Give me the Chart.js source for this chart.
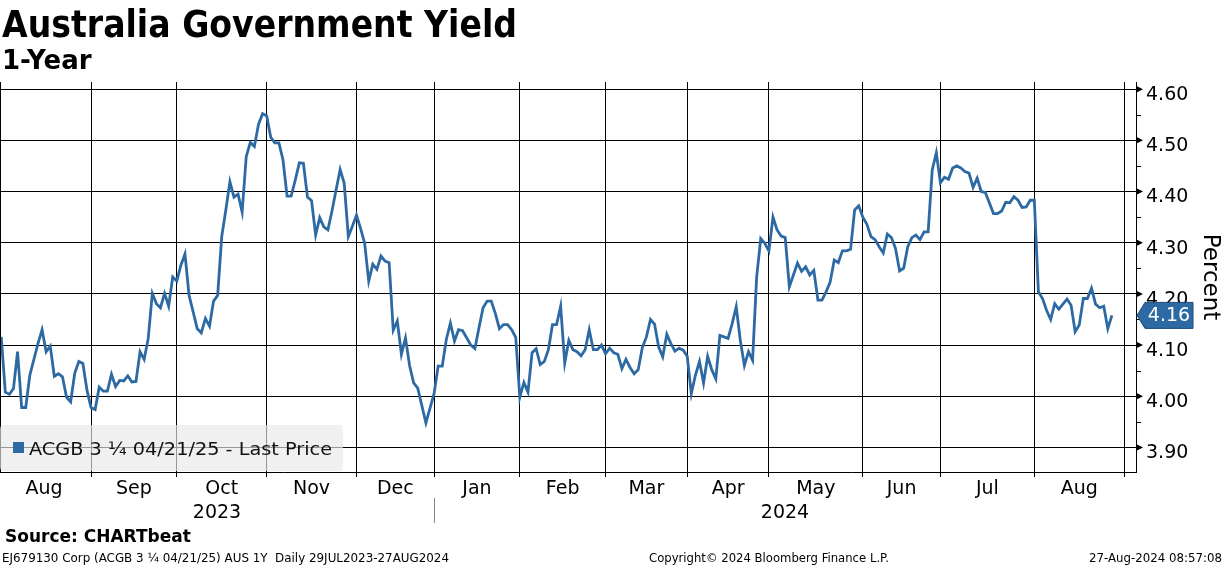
<!DOCTYPE html>
<html>
<head>
<meta charset="utf-8">
<script src="https://cdn.jsdelivr.net/npm/chart.js@4.4.1/dist/chart.umd.min.js"></script>
<style>
    body { margin: 0; background: #fff; width: 1224px; height: 566px; overflow: hidden; position: relative; font-family: "DejaVu Sans", sans-serif; }
    #chart { position: absolute; left: 0; top: 0; }
    .txt { position: absolute; white-space: nowrap; color: #000; transform-origin: left top; display: inline-block; }
    #title { left: 2px; top: 6px; font-size: 37px; line-height: 37px; font-weight: bold; }
    #subtitle { left: 2px; top: 47px; font-size: 26px; line-height: 26px; font-weight: bold; }
    #source { left: 5px; top: 528px; font-size: 17px; line-height: 17px; font-weight: bold; }
    .foot { top: 552px; font-size: 12px; line-height: 12px; }
    #foot1 { left: 2px; }
    #foot2 { left: 649px; }
    #foot3 { left: 1089px; }
</style>
</head>
<body>
<canvas id="chart" width="1224" height="566"></canvas>
<div class="txt" id="title">Australia Government Yield</div>
<div class="txt" id="subtitle">1-Year</div>
<div class="txt" id="source">Source: CHARTbeat</div>
<div class="txt foot" id="foot1">EJ679130 Corp (ACGB 3 ¼ 04/21/25) AUS 1Y&nbsp; Daily 29JUL2023-27AUG2024</div>
<div class="txt foot" id="foot2">Copyright© 2024 Bloomberg Finance L.P.</div>
<div class="txt foot" id="foot3">27-Aug-2024 08:57:08</div>
<script>
// Trading session number (0 = 31 Jul 2023) and last price yield (%)
const session = [
    2, 3, 4, 5, 6, 7, 8, 9, 11, 12, 13, 14, 15, 16, 17, 18, 19, 20, 21, 22,
    23, 24, 25, 26, 27, 28, 29, 30, 31, 32, 33, 34, 35, 36, 37, 38, 39, 40, 41, 42,
    43, 44, 45, 46, 47, 48, 49, 50, 51, 52, 53, 54, 55, 56, 57, 58, 59, 60, 61, 62,
    63, 64, 65, 66, 67, 68, 69, 70, 71, 72, 73, 74, 75, 76, 77, 78, 79, 80, 81, 82,
    83, 84, 85, 86, 87, 88, 89, 90, 91, 92, 93, 94, 95, 96, 97, 98, 99, 100, 101, 102,
    103, 104, 106, 108, 109, 110, 111, 112, 113, 114, 115, 117, 118, 119, 120, 121, 122, 123, 124, 125,
    126, 127, 128, 129, 130, 131, 132, 133, 134, 135, 136, 137, 138, 139, 140, 141, 142, 143, 144, 145,
    146, 147, 148, 149, 150, 151, 152, 153, 154, 155, 156, 157, 158, 159, 160, 161, 162, 163, 164, 165,
    166, 167, 168, 169, 170, 171, 172, 173, 174, 175, 176, 177, 178, 179, 180, 181, 182, 183, 184, 185,
    186, 187, 188, 189, 190, 191, 192, 193, 194, 195, 196, 197, 198, 199, 200, 201, 202, 203, 204, 205,
    206, 207, 208, 209, 210, 211, 212, 213, 214, 215, 216, 217, 218, 219, 220, 221, 222, 223, 224, 225,
    226, 227, 228, 229, 230, 231, 232, 233, 234, 235, 236, 237, 238, 239, 240, 241, 242, 243, 245, 246,
    247, 248, 249, 250, 251, 252, 253, 254, 255, 256, 257, 258, 259, 260, 261, 262, 263, 264, 265, 266,
    267, 268, 269, 270, 271, 272, 273, 274
];
const yieldPct = [
    4.116, 4.008, 4.004, 4.015, 4.087, 3.978, 3.978, 4.041, 4.103, 4.130, 4.087, 4.098, 4.039, 4.044, 4.038, 3.998, 3.989, 4.045, 4.068, 4.064,
    4.012, 3.978, 3.974, 4.018, 4.010, 4.010, 4.043, 4.019, 4.031, 4.030, 4.040, 4.028, 4.029, 4.087, 4.072, 4.113, 4.201, 4.181, 4.173, 4.201,
    4.176, 4.233, 4.225, 4.256, 4.278, 4.197, 4.165, 4.132, 4.124, 4.152, 4.137, 4.186, 4.197, 4.312, 4.364, 4.419, 4.389, 4.395, 4.360, 4.468,
    4.496, 4.488, 4.531, 4.552, 4.548, 4.506, 4.495, 4.495, 4.462, 4.391, 4.391, 4.422, 4.456, 4.455, 4.389, 4.382, 4.315, 4.349, 4.331, 4.325,
    4.362, 4.403, 4.443, 4.416, 4.312, 4.332, 4.354, 4.328, 4.299, 4.225, 4.258, 4.248, 4.274, 4.264, 4.261, 4.129, 4.147, 4.082, 4.114, 4.060,
    4.026, 4.016, 3.948, 4.005, 4.059, 4.059, 4.111, 4.143, 4.108, 4.130, 4.128, 4.100, 4.093, 4.134, 4.173, 4.186, 4.186, 4.162, 4.132, 4.140,
    4.140, 4.130, 4.115, 3.998, 4.027, 4.008, 4.085, 4.093, 4.062, 4.068, 4.091, 4.140, 4.140, 4.176, 4.065, 4.109, 4.091, 4.087, 4.079, 4.091,
    4.130, 4.091, 4.091, 4.100, 4.083, 4.094, 4.085, 4.082, 4.054, 4.072, 4.056, 4.044, 4.052, 4.095, 4.116, 4.150, 4.141, 4.096, 4.077, 4.121,
    4.103, 4.088, 4.094, 4.090, 4.078, 4.005, 4.041, 4.068, 4.026, 4.078, 4.052, 4.034, 4.119, 4.116, 4.113, 4.142, 4.175, 4.109, 4.060, 4.087,
    4.070, 4.233, 4.308, 4.299, 4.284, 4.350, 4.325, 4.313, 4.310, 4.214, 4.237, 4.260, 4.244, 4.253, 4.237, 4.246, 4.188, 4.188, 4.204, 4.223,
    4.266, 4.261, 4.284, 4.284, 4.287, 4.364, 4.372, 4.350, 4.336, 4.312, 4.306, 4.292, 4.280, 4.317, 4.310, 4.289, 4.245, 4.250, 4.292, 4.310,
    4.315, 4.306, 4.321, 4.321, 4.442, 4.476, 4.417, 4.428, 4.424, 4.446, 4.450, 4.446, 4.439, 4.436, 4.408, 4.426, 4.400, 4.398, 4.357, 4.357,
    4.362, 4.379, 4.378, 4.390, 4.383, 4.369, 4.370, 4.383, 4.383, 4.204, 4.191, 4.168, 4.150, 4.181, 4.170, 4.180, 4.190, 4.178, 4.126, 4.139,
    4.191, 4.191, 4.211, 4.180, 4.173, 4.176, 4.132, 4.158
];

// Axis labels
const monthNames = ['Aug', 'Sep', 'Oct', 'Nov', 'Dec', 'Jan', 'Feb', 'Mar', 'Apr', 'May', 'Jun', 'Jul', 'Aug'];
const yearNames = ['2023', '2024'];
const yTicks = [3.90, 4.00, 4.10, 4.20, 4.30, 4.40, 4.50, 4.60];
const seriesName = 'ACGB 3 ¼ 04/21/25 - Last Price';
const lineColor = '#2d6aa3';

// Market holidays skipped by the daily series
const holidays = ['2023-12-25', '2023-12-26', '2024-01-01', '2024-01-26', '2024-03-29', '2024-04-01', '2024-04-25', '2024-06-10'];

// Build the trading calendar so the month boundaries line up with the sessions
function tradingDays(from, to) {
    const days = [];
    const d = new Date(from + 'T00:00:00Z');
    const end = new Date(to + 'T00:00:00Z');
    while (d <= end) {
        const iso = d.toISOString().slice(0, 10);
        const wd = d.getUTCDay();
        if (wd !== 0 && wd !== 6 && !holidays.includes(iso)) days.push(iso);
        d.setUTCDate(d.getUTCDate() + 1);
    }
    return days;
}
const calendar = tradingDays('2023-07-31', '2024-09-30');
const monthStarts = [];
calendar.forEach((day, i) => {
    if (i > 0 && day.slice(5, 7) !== calendar[i - 1].slice(5, 7)) monthStarts.push(i);
});
const monthMids = monthStarts.slice(0, -1).map((s, i) => (s + monthStarts[i + 1]) / 2);
const yearStart = monthStarts[5]; // first session of 2024

const xMin = 1.7, xMax = 279.9;
const yMin = 3.852, yMax = 4.614;

// Draws the extras Bloomberg puts on the chart
const extras = {
    id: 'extras',
    beforeDraw(chart) {
        const c = chart.ctx;
        c.save();
        c.fillStyle = '#fff';
        c.fillRect(0, 0, chart.width, chart.height);
        c.restore();
    },
    afterDatasetsDraw(chart) {
        const c = chart.ctx;
        const a = chart.chartArea;
        const x = chart.scales.x;
        const y = chart.scales.y;
        c.save();
        // left frame
        c.strokeStyle = '#000';
        c.lineWidth = 1;
        c.beginPath();
        c.moveTo(a.left + 0.5, a.top);
        c.lineTo(a.left + 0.5, a.bottom);
        c.stroke();

        // legend box
        c.fillStyle = 'rgba(232,232,232,0.65)';
        c.beginPath();
        c.roundRect(a.left, a.bottom - 47, 343, 46, 4);
        c.fill();
        c.fillStyle = lineColor;
        c.fillRect(a.left + 13, a.bottom - 30, 11, 11);
        c.fillStyle = '#111';
        c.font = '17px "DejaVu Sans"';
        c.textBaseline = 'alphabetic';
        const tw = c.measureText(seriesName).width;
        c.save();
        c.translate(a.left + 29, a.bottom - 17);
        c.scale(303 / tw, 1);
        c.fillText(seriesName, 0, 0);
        c.restore();

        // arrow markers and minor ticks on the right axis
        c.fillStyle = '#000';
        yTicks.forEach(v => {
            const py = y.getPixelForValue(v);
            c.beginPath();
            c.moveTo(a.right, py - 3.5);
            c.lineTo(a.right + 7, py);
            c.lineTo(a.right, py + 3.5);
            c.closePath();
            c.fill();
            const my = Math.round(y.getPixelForValue(v + 0.05)) + 0.5;
            if (v + 0.05 < yMax) {
                c.beginPath();
                c.moveTo(a.right, my);
                c.lineTo(a.right + 5, my);
                c.stroke();
            }
        });

        // last value tag
        const last = yieldPct[yieldPct.length - 1];
        const ly = y.getPixelForValue(last);
        c.fillStyle = lineColor;
        c.strokeStyle = '#1c4a78';
        c.beginPath();
        c.moveTo(a.right + 1, ly);
        c.lineTo(a.right + 9, ly - 13);
        c.lineTo(a.right + 57, ly - 13);
        c.lineTo(a.right + 57, ly + 13);
        c.lineTo(a.right + 9, ly + 13);
        c.closePath();
        c.fill();
        c.stroke();
        c.fillStyle = '#fff';
        c.font = '19px "DejaVu Sans"';
        c.textAlign = 'center';
        c.textBaseline = 'middle';
        c.fillText(last.toFixed(2), a.right + 33, ly + 1);

        // month names between the month boundaries
        c.fillStyle = '#000';
        c.textBaseline = 'alphabetic';
        monthMids.forEach((m, i) => {
            c.fillText(monthNames[i], x.getPixelForValue(m), a.bottom + 22);
        });

        // years under the month labels
        const sep = x.getPixelForValue(yearStart);
        c.fillText(yearNames[0], (a.left + sep) / 2, a.bottom + 46);
        c.fillText(yearNames[1], (sep + a.right) / 2, a.bottom + 46);
        c.strokeStyle = '#888';
        c.beginPath();
        c.moveTo(Math.round(sep) + 0.5, a.bottom + 26);
        c.lineTo(Math.round(sep) + 0.5, a.bottom + 51);
        c.stroke();
        c.restore();
    }
};

const ctx = document.getElementById('chart').getContext('2d');
const yieldChart = new Chart(ctx, {
    type: 'line',
    data: {
        datasets: [{
            label: seriesName,
            data: session.map((s, i) => ({ x: s, y: yieldPct[i] })),
            borderColor: lineColor,
            borderWidth: 2.8,
            pointRadius: 0,
            tension: 0
        }]
    },
    options: {
        responsive: false,
        animation: false,
        devicePixelRatio: 1,
        layout: { padding: { top: 82, left: 0, right: 0, bottom: 89 } },
        plugins: { legend: { display: false }, tooltip: { enabled: false } },
        scales: {
            x: {
                type: 'linear',
                position: 'bottom',
                min: xMin,
                max: xMax,
                afterBuildTicks: s => { s.ticks = monthStarts.map(v => ({ value: v })); },
                afterFit: s => { s.height = 5; },
                ticks: { display: false },
                grid: { color: '#000', lineWidth: 1, drawTicks: true, tickLength: 5 },
                border: { color: '#000' }
            },
            y: {
                position: 'right',
                min: yMin,
                max: yMax,
                afterBuildTicks: s => { s.ticks = yTicks.map(v => ({ value: v })); },
                afterFit: s => { s.width = 88; },
                ticks: {
                    padding: 10,
                    labelOffset: 6,
                    color: '#000',
                    font: { family: 'DejaVu Sans', size: 19 },
                    callback: v => v.toFixed(2)
                },
                grid: { color: '#000', lineWidth: 1, drawTicks: false },
                border: { color: '#000' },
                title: {
                    display: true,
                    text: 'Percent',
                    color: '#000',
                    padding: 0,
                    font: { family: 'DejaVu Sans', size: 23 }
                }
            }
        }
    },
    plugins: [extras]
});

// Squeeze the header and footer text to the widths of the original
function fitWidth(id, width) {
    const el = document.getElementById(id);
    const w = el.getBoundingClientRect().width;
    el.style.transform = `scaleX(${width / w})`;
}
fitWidth('title', 515);
fitWidth('foot1', 447);
fitWidth('foot2', 240);
fitWidth('foot3', 133);
</script>
</body>
</html>
